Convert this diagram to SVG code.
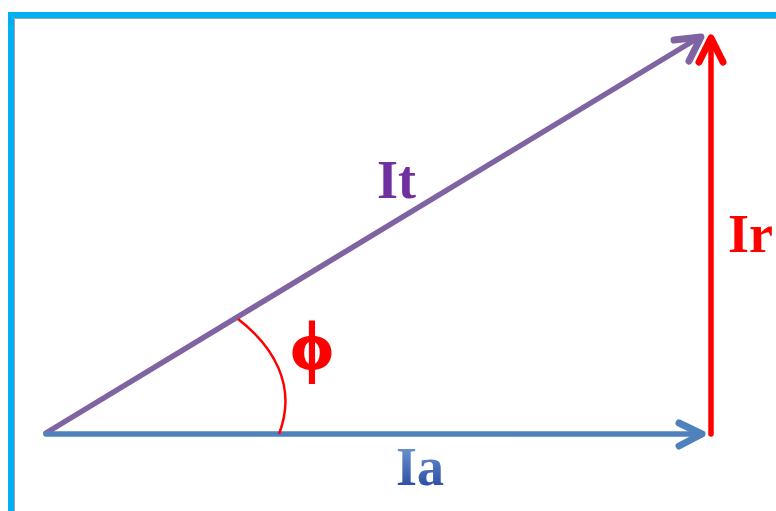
<svg xmlns="http://www.w3.org/2000/svg" width="776" height="511" viewBox="0 0 776 511">
<defs>
<linearGradient id="gIa" x1="0" y1="0" x2="0" y2="1">
<stop offset="0" stop-color="#7AA3DC"/>
<stop offset="1" stop-color="#1C3C98"/>
</linearGradient>
<style>
.lbl{font-family:"Liberation Serif","Times New Roman",serif;font-weight:bold;font-size:54px}
.vec{fill:none;stroke-width:5.5;stroke-linecap:round;stroke-linejoin:round}
.head{fill:none;stroke-width:7;stroke-linecap:round;stroke-linejoin:round}
</style>
</defs>
<rect width="776" height="511" fill="#ffffff"/>
<g id="frame">
<path d="M11,511 V15 H776" fill="none" stroke="#00B0F0" stroke-width="6"/>
<path d="M14.5,511 V18.5 H776" fill="none" stroke="#9aa3a8" stroke-width="1"/>
</g>
<g id="connectors">
<g id="It-vector">
<path class="vec" stroke="#8064A2" d="M46,433 L698,38"/>
<path class="head" stroke="#8064A2" d="M674,40 L701,37 L689,61"/>
</g>
<g id="Ir-vector">
<path class="vec" stroke="#FF0000" stroke-linecap="butt" d="M711,434 V42"/>
<path class="head" stroke="#FF0000" d="M699,62 L711,38 L723,62"/>
</g>
<g id="Ia-vector">
<path class="vec" stroke="#4F81BD" stroke-linecap="butt" d="M46,434 H700"/>
<path class="head" stroke="#4F81BD" d="M679,423 L702,434 L679,446"/>
</g>
<path id="angle-arc" d="M238,319 C272,345 298,385 279,434" fill="none" stroke="#FF0000" stroke-width="2.5"/>
</g>
<g id="label-It"><text class="lbl" x="377" y="198" fill="#7030A0">It</text></g>
<g id="label-Ir"><text class="lbl" x="728" y="252" fill="#FF0000">Ir</text></g>
<g id="label-Ia"><text class="lbl" x="396" y="485" fill="url(#gIa)">Ia</text></g>
<g id="label-phi"><text class="lbl" x="312" y="369" text-anchor="middle" fill="#FF0000" stroke="#FF0000" stroke-width="2" style="font-size:68px">ϕ</text></g>
</svg>
